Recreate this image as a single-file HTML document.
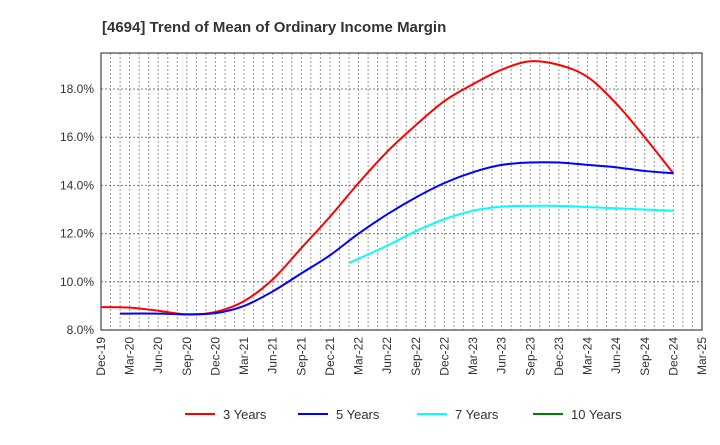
<!DOCTYPE html>
<html><head><meta charset="utf-8"><style>
body{margin:0;background:#fff;font-family:"Liberation Sans",sans-serif}
</style></head><body>
<svg width="720" height="440" xmlns="http://www.w3.org/2000/svg">
<text x="102" y="32" font-size="15" font-weight="bold" fill="#333">[4694]  Trend of Mean of Ordinary Income Margin</text>
<g id="grid"></g>
<g id="axes"></g>
<g id="series"></g>
<g id="legend"></g>
</svg>
<script>
const xLabels=["Dec-19","Mar-20","Jun-20","Sep-20","Dec-20","Mar-21","Jun-21","Sep-21","Dec-21","Mar-22","Jun-22","Sep-22","Dec-22","Mar-23","Jun-23","Sep-23","Dec-23","Mar-24","Jun-24","Sep-24","Dec-24","Mar-25"];
const yTicks=[8,10,12,14,16,18];
const seriesNames=["3 Years","5 Years","7 Years","10 Years"];
const seriesColors=["#ff0000","#0000ff","#00ffff","#008000"];
// values: first value at start month (months since Dec-19), following values quarterly ending Dec-24
const series3=[8.95,8.93,8.8,8.65,8.75,9.2,10.1,11.4,12.7,14.1,15.4,16.5,17.5,18.2,18.8,19.15,19.0,18.5,17.4,16.0,14.5];
const series3StartMonth=0;
const series5=[8.68,8.68,8.65,8.7,9.0,9.6,10.35,11.1,12.0,12.8,13.5,14.1,14.55,14.85,14.95,14.95,14.85,14.75,14.6,14.5];
const series5StartMonth=2;
const series7=[10.78,11.5,12.1,12.6,12.95,13.12,13.15,13.15,13.1,13.05,13.0,12.95];
const series7StartMonth=26;
const series10=[];
const series10StartMonth=0;

const L=101,R=702,T=53,B=330,yMin=8,yMax=8+(B-T)/24.1,endMonth=60;
const NS="http://www.w3.org/2000/svg";
const XM=m=>L+m*(R-L)/63;
const Y=v=>B-(v-yMin)*(B-T)/(yMax-yMin);
function mk(tag,attrs,parent){const e=document.createElementNS(NS,tag);for(const k in attrs)e.setAttribute(k,attrs[k]);parent.appendChild(e);return e;}
const grid=document.getElementById('grid'),axes=document.getElementById('axes'),ser=document.getElementById('series'),leg=document.getElementById('legend');
for(let m=1;m<63;m++){const x=XM(m);const g=mk('line',{x1:x,x2:x,y1:T,y2:B,stroke:'#999','stroke-dasharray':'2,2','stroke-width':1},grid);

}
yTicks.forEach(v=>{const y=Y(v);if(v>yMin){const g=mk('line',{x1:L,x2:R,y1:y,y2:y,stroke:'#777','stroke-dasharray':'2,2'},grid);

}
const t=mk('text',{x:L-7,y:y+4,'text-anchor':'end','font-size':12,fill:'#333'},axes);t.textContent=v.toFixed(1)+'%';

});
const fr=mk('rect',{x:L,y:T,width:R-L,height:B-T,fill:'none',stroke:'#444','stroke-width':1.2},axes);


xLabels.forEach((s,i)=>{const x=XM(i*3);const t=mk('text',{transform:`translate(${x+4},${B+7}) rotate(-90)`,'text-anchor':'end','font-size':12,fill:'#333'},axes);t.textContent=s;

});
function path(vals,startM){const n=vals.length;const p=vals.map((v,i)=>{const m=i===0?startM:endMonth-(n-1-i)*3;return [XM(m),Y(v)];});if(p.length<2)return '';let d=`M${p[0][0]},${p[0][1]}`;
for(let i=0;i<p.length-1;i++){const p0=p[i-1]||p[i],p1=p[i],p2=p[i+1],p3=p[i+2]||p2;
d+=` C${p1[0]+(p2[0]-p0[0])/6},${p1[1]+(p2[1]-p0[1])/6} ${p2[0]-(p3[0]-p1[0])/6},${p2[1]-(p3[1]-p1[1])/6} ${p2[0]},${p2[1]}`;}return d;}
[[series3,series3StartMonth],[series5,series5StartMonth],[series7,series7StartMonth],[series10,series10StartMonth]].forEach((s,k)=>{const d=path(s[0],s[1]);if(!d)return;
const e=mk('path',{d:d,fill:'none',stroke:seriesColors[k],'stroke-width':2},ser);

});
const lx=[185,298,417,533];
seriesNames.forEach((n,k)=>{const g=mk('g',{},leg);


mk('line',{x1:lx[k],x2:lx[k]+30,y1:414,y2:414,stroke:seriesColors[k],'stroke-width':2},g);
const t=mk('text',{x:lx[k]+38,y:419,'font-size':13,fill:'#333'},g);t.textContent=n;});
</script>
</body></html>
